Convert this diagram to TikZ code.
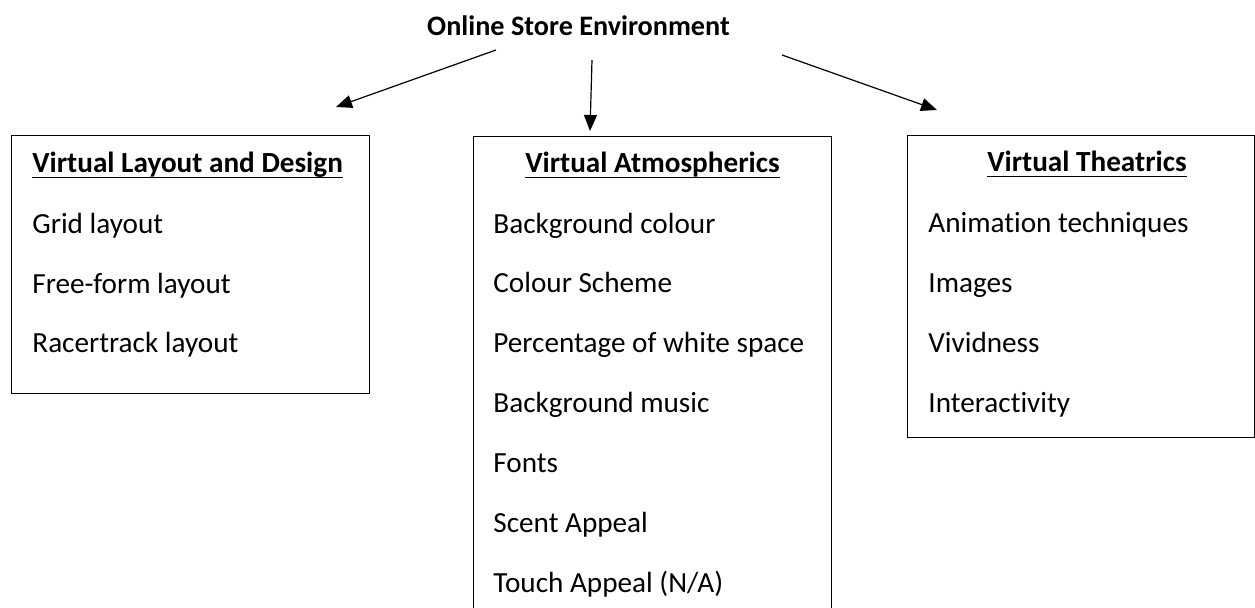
\documentclass[tikz,border=0pt]{standalone}
\usepackage{fontspec}
\setmainfont{Carlito}[Ligatures=NoCommon]
\usetikzlibrary{arrows.meta}
\newcommand\headul[1]{\setbox0\hbox{#1}\rlap{\rule[-2.7pt]{\wd0}{0.8pt}}\box0}
\begin{document}
\begin{tikzpicture}[x=0.5pt,y=-0.5pt,
  every node/.style={inner sep=0pt, font=\fontsize{14.6}{17}\selectfont},
  panel/.style={draw, line width=0.6pt, anchor=north west, minimum width=179pt},
  item/.style={anchor=base west},
  head/.style={anchor=base, font=\fontsize{14.6}{17}\selectfont\bfseries},
  link/.style={line width=0.6pt, -{Triangle[length=8pt,width=6.5pt]}}]
\useasboundingbox (0,0) rectangle (1255,608);

% title
\node[head, font=\fontsize{14.1}{17}\selectfont\bfseries] (title) at (578.5,36) {Online Store Environment};

% panels
\node[panel, minimum height=129pt] (layout) at (11,135) {};
\node[panel, minimum height=242pt] (atmos) at (473,136) {};
\node[panel, minimum width=173.5pt, minimum height=151pt] (theatre) at (907,135) {};

% left panel
\node[item, font=\fontsize{14.6}{17}\selectfont\bfseries] (lh) at (32,173) {\headul{Virtual Layout and Design}};
\node[item] (l1) at (32,234) {Grid layout};
\node[item] (l2) at (32,294) {Free-form layout};
\node[item] (l3) at (32,353) {Racertrack layout};

% middle panel
\node[head] (mh) at (652.5,173) {\headul{Virtual Atmospherics}};
\node[item] (m1) at (493,234) {Background colour};
\node[item] (m2) at (493,293) {Colour Scheme};
\node[item] (m3) at (493,353) {Percentage of white space};
\node[item] (m4) at (493,413) {Background music};
\node[item] (m5) at (493,473) {Fonts};
\node[item] (m6) at (493,533) {Scent Appeal};
\node[item] (m7) at (493,593) {Touch Appeal (N/A)};

% right panel
\node[head] (rh) at (1087,172) {\headul{Virtual Theatrics}};
\node[item] (r1) at (928,233) {Animation techniques};
\node[item] (r2) at (928,293) {Images};
\node[item] (r3) at (928,353) {Vividness};
\node[item] (r4) at (928,413) {Interactivity};

% connectors
\coordinate (ls) at (496,50);
\coordinate (le) at (336,107);
\coordinate (ms) at (592,60);
\coordinate (me) at (590,131);
\coordinate (rs) at (782,55);
\coordinate (re) at (937,110);
\draw[link] (ls) -- (le);
\draw[link] (ms) -- (me);
\draw[link] (rs) -- (re);
\end{tikzpicture}
\end{document}
